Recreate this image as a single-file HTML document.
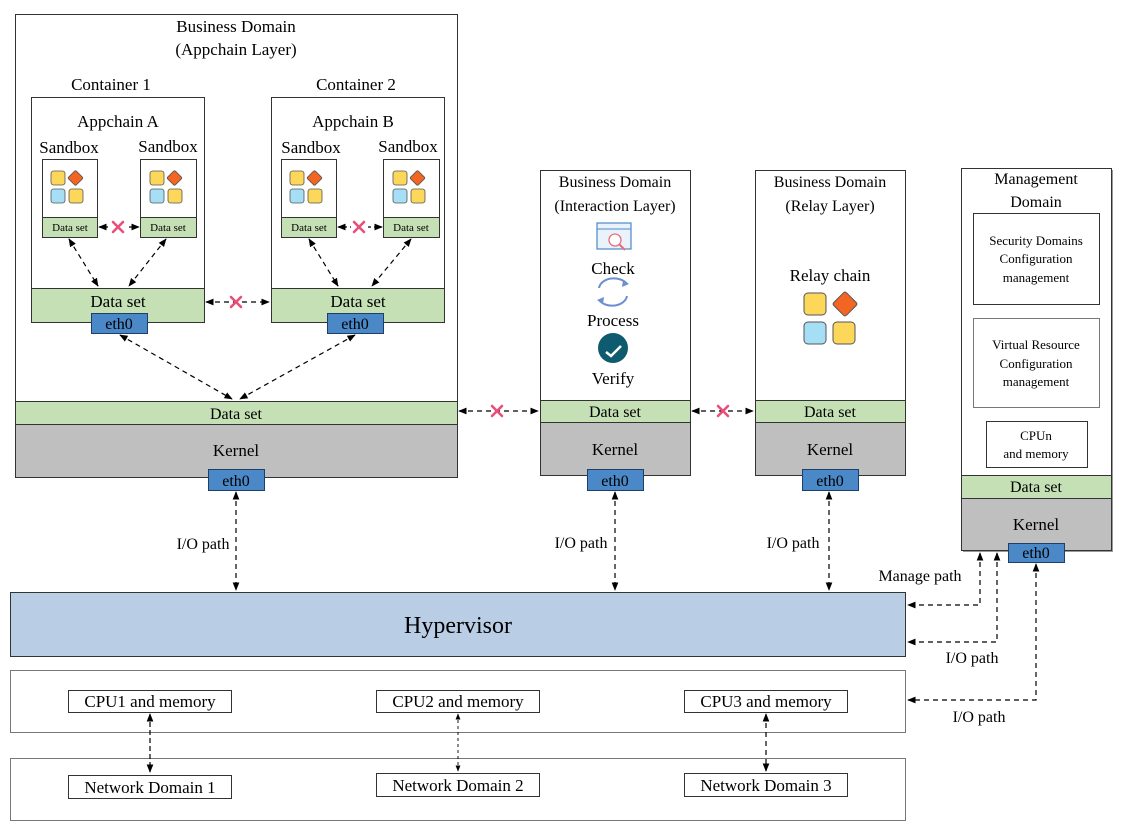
<!DOCTYPE html>
<html><head><meta charset="utf-8"><style>
html,body{margin:0;padding:0;background:#fff;}
svg{display:block;font-family:"Liberation Serif",serif;}
</style></head><body>
<svg width="1127" height="832" viewBox="0 0 1127 832" xmlns="http://www.w3.org/2000/svg">
<defs>
<marker id="a" viewBox="0 0 10 10" refX="9" refY="5" markerWidth="7" markerHeight="7" orient="auto-start-reverse"><path d="M0,1 L10,5 L0,9 z" fill="#000"/></marker>
<g id="ic">
<rect x="0" y="0" width="14" height="14" rx="2.5" fill="#fcd75a" stroke="#555" stroke-width="0.8"/>
<rect x="19" y="1.5" width="11" height="11" rx="1.5" fill="#f26522" stroke="#555" stroke-width="0.8" transform="rotate(45 24.5 7)"/>
<rect x="0" y="18" width="14" height="14" rx="2.5" fill="#a5def5" stroke="#555" stroke-width="0.8"/>
<rect x="18" y="18" width="14" height="14" rx="2.5" fill="#fcd75a" stroke="#555" stroke-width="0.8"/>
</g>
<g id="x"><path d="M-5,-5 L5,5 M5,-5 L-5,5" stroke="#e8507a" stroke-width="2.6" stroke-linecap="round"/></g>
</defs>
<g stroke="#333" stroke-width="1" fill="none">
<rect x="15.5" y="14.5" width="442" height="463" fill="#fff"/>
<rect x="15.5" y="401.5" width="442" height="23" fill="#c5e0b4"/>
<rect x="15.5" y="424.5" width="442" height="53" fill="#bfbfbf"/>
<rect x="31.5" y="97.5" width="173" height="225" fill="#fff"/>
<rect x="31.5" y="288.5" width="173" height="34" fill="#c5e0b4"/>
<rect x="271.5" y="97.5" width="173" height="225" fill="#fff"/>
<rect x="271.5" y="288.5" width="173" height="34" fill="#c5e0b4"/>
<rect x="42.5" y="159.5" width="55" height="78" fill="#fff"/><rect x="42.5" y="217.5" width="55" height="20" fill="#c5e0b4"/>
<rect x="140.5" y="159.5" width="56" height="78" fill="#fff"/><rect x="140.5" y="217.5" width="56" height="20" fill="#c5e0b4"/>
<rect x="281.5" y="159.5" width="55" height="78" fill="#fff"/><rect x="281.5" y="217.5" width="55" height="20" fill="#c5e0b4"/>
<rect x="383.5" y="159.5" width="56" height="78" fill="#fff"/><rect x="383.5" y="217.5" width="56" height="20" fill="#c5e0b4"/>
<rect x="540.5" y="170.5" width="150" height="305" fill="#fff"/>
<rect x="540.5" y="400.5" width="150" height="22" fill="#c5e0b4"/>
<rect x="540.5" y="422.5" width="150" height="53" fill="#bfbfbf"/>
<rect x="755.5" y="170.5" width="150" height="305" fill="#fff"/>
<rect x="755.5" y="400.5" width="150" height="22" fill="#c5e0b4"/>
<rect x="755.5" y="422.5" width="150" height="53" fill="#bfbfbf"/>
<rect x="963" y="170" width="150" height="382" fill="#999" stroke="none"/>
<rect x="961.5" y="168.5" width="150" height="382" fill="#fff"/>
<rect x="961.5" y="475.5" width="150" height="23" fill="#c5e0b4"/>
<rect x="961.5" y="498.5" width="150" height="52" fill="#bfbfbf"/>
<rect x="973.5" y="213.5" width="126" height="91" fill="#fff"/>
<rect x="973.5" y="318.5" width="126" height="89" fill="#fff" stroke="#777"/>
<rect x="986.5" y="421.5" width="101" height="46" fill="#fff"/>
<rect x="10.5" y="592.5" width="895" height="64" fill="#b9cde5"/>
<rect x="10.5" y="670.5" width="895" height="62" fill="#fff" stroke="#777"/>
<rect x="10.5" y="758.5" width="895" height="62" fill="#fff" stroke="#777"/>
<rect x="68.5" y="690.5" width="163" height="22" fill="#fff"/>
<rect x="376.5" y="690.5" width="163" height="22" fill="#fff"/>
<rect x="684.5" y="690.5" width="163" height="22" fill="#fff"/>
<rect x="68.5" y="775.5" width="163" height="23" fill="#fff"/>
<rect x="376.5" y="773.5" width="163" height="23" fill="#fff"/>
<rect x="684.5" y="773.5" width="163" height="23" fill="#fff"/>
<g fill="#4a88c8" stroke="#1f3f66">
<rect x="91.5" y="313.5" width="56" height="20"/>
<rect x="327.5" y="313.5" width="56" height="20"/>
<rect x="208.5" y="469.5" width="56" height="21"/>
<rect x="587.5" y="469.5" width="56" height="21"/>
<rect x="802.5" y="469.5" width="56" height="21"/>
<rect x="1008.5" y="543.5" width="56" height="19"/>
</g>
</g>
<use href="#ic" x="51" y="171"/><use href="#ic" x="150" y="171"/>
<use href="#ic" x="290" y="171"/><use href="#ic" x="393" y="171"/>
<g stroke="#000" stroke-width="1.2" fill="none" stroke-dasharray="5,4" marker-start="url(#a)" marker-end="url(#a)">
<path d="M69,239 L98,286"/><path d="M166,239 L129,286"/>
<path d="M309,239 L338,286"/><path d="M411,239 L372,286"/>
<path d="M99,227 L139,227" stroke-dasharray="3,3"/><path d="M338,227 L382,227" stroke-dasharray="3,3"/>
<path d="M206,302 L269,302"/>
<path d="M120,335 L232,399"/><path d="M355,335 L240,399"/>
<path d="M459,411 L538,411"/><path d="M692,411 L753,411"/>
<path d="M236,492 L236,590"/><path d="M615,492 L615,590"/><path d="M829,492 L829,590"/>
<path d="M980,553 L980,605 L908,605"/>
<path d="M997,553 L997,642 L908,642"/>
<path d="M1036,564 L1036,700 L908,700"/>
<path d="M150,714 L150,772" stroke-dasharray="5,3"/>
<path d="M458,714 L458,771" stroke-dasharray="3,3" stroke-width="0.9"/>
<path d="M766,714 L766,771"/>
</g>
<rect x="110" y="221" width="16" height="12" fill="#fff"/><rect x="351" y="221" width="16" height="12" fill="#fff"/>
<use href="#x" x="118" y="227"/><use href="#x" x="359" y="227"/>
<use href="#x" x="236" y="302"/><use href="#x" x="497" y="411"/><use href="#x" x="723" y="411"/>
<g>
<rect x="597" y="223" width="34" height="26" fill="#eaf2fb" stroke="#4a88c8" stroke-width="1.2"/>
<line x1="597" y1="229" x2="631" y2="229" stroke="#4a88c8"/>
<circle cx="615" cy="240" r="6" fill="#fff" stroke="#e8707a" stroke-width="1.3"/>
<line x1="619" y1="244" x2="625" y2="250" stroke="#e8707a" stroke-width="2"/>
<path d="M599,288 A15,11 0 0 1 627,284" stroke="#6b8fd0" stroke-width="2" fill="none"/>
<path d="M627,296 A15,11 0 0 1 599,300" stroke="#6b8fd0" stroke-width="2" fill="none"/>
<path d="M623,280 l6,4 l-7,3 z" fill="#6b8fd0"/>
<path d="M603,304 l-6,-4 l7,-3 z" fill="#6b8fd0"/>
<circle cx="613" cy="348" r="15" fill="#0e5b6f"/>
<path d="M606,352 l5,4 l10,-10" stroke="#fff" stroke-width="2.5" fill="none"/>
</g>
<g>
<rect x="804" y="293" width="22" height="22" rx="4" fill="#fcd75a" stroke="#555"/>
<rect x="836" y="295" width="18" height="18" rx="2" fill="#f26522" stroke="#555" transform="rotate(45 845 304)"/>
<rect x="804" y="322" width="22" height="22" rx="4" fill="#a5def5" stroke="#555"/>
<rect x="833" y="322" width="22" height="22" rx="4" fill="#fcd75a" stroke="#555"/>
</g>
<g fill="#000" text-anchor="middle" font-size="17">
<text x="236" y="32">Business Domain</text>
<text x="236" y="55">(Appchain Layer)</text>
<text x="111" y="90">Container 1</text>
<text x="356" y="90">Container 2</text>
<text x="118" y="127">Appchain A</text>
<text x="353" y="127">Appchain B</text>
<text x="69" y="153">Sandbox</text><text x="168" y="152">Sandbox</text>
<text x="311" y="153">Sandbox</text><text x="408" y="152">Sandbox</text>
<text x="118" y="307">Data set</text><text x="358" y="307">Data set</text>
<text x="236" y="419" font-size="16">Data set</text>
<text x="236" y="456">Kernel</text>
<text x="615" y="187" font-size="16">Business Domain</text>
<text x="615" y="211" font-size="16">(Interaction Layer)</text>
<text x="613" y="274">Check</text>
<text x="613" y="326">Process</text>
<text x="613" y="384">Verify</text>
<text x="615" y="417" font-size="16">Data set</text>
<text x="615" y="455">Kernel</text>
<text x="830" y="187" font-size="16">Business Domain</text>
<text x="830" y="211" font-size="16">(Relay Layer)</text>
<text x="830" y="281">Relay chain</text>
<text x="830" y="417" font-size="16">Data set</text>
<text x="830" y="455">Kernel</text>
<text x="1036" y="184" font-size="16">Management</text>
<text x="1036" y="207" font-size="16">Domain</text>
<text x="1036" y="492" font-size="16">Data set</text>
<text x="1036" y="530">Kernel</text>
<text x="458" y="633" font-size="24">Hypervisor</text>
<text x="150" y="707">CPU1 and memory</text>
<text x="458" y="707">CPU2 and memory</text>
<text x="766" y="707">CPU3 and memory</text>
<text x="150" y="793">Network Domain 1</text>
<text x="458" y="791">Network Domain 2</text>
<text x="766" y="791">Network Domain 3</text>
<text x="203" y="549" font-size="16">I/O path</text>
<text x="581" y="548" font-size="16">I/O path</text>
<text x="793" y="548" font-size="16">I/O path</text>
<text x="920" y="581" font-size="16">Manage path</text>
<text x="972" y="663" font-size="16">I/O path</text>
<text x="979" y="722" font-size="16">I/O path</text>
</g>
<g fill="#000" text-anchor="middle" font-size="12">
<text x="70" y="231" font-size="11">Data set</text><text x="168" y="231" font-size="11">Data set</text>
<text x="309" y="231" font-size="11">Data set</text><text x="411" y="231" font-size="11">Data set</text>
<text x="1036" y="245" font-size="13">Security Domains</text>
<text x="1036" y="263" font-size="13">Configuration</text>
<text x="1036" y="282" font-size="13">management</text>
<text x="1036" y="349" font-size="13">Virtual Resource</text>
<text x="1036" y="368" font-size="13">Configuration</text>
<text x="1036" y="386" font-size="13">management</text>
<text x="1036" y="440" font-size="13">CPUn</text>
<text x="1036" y="458" font-size="13">and memory</text>
</g>
<g fill="#000" text-anchor="middle" font-size="16">
<text x="119" y="329">eth0</text><text x="355" y="329">eth0</text>
<text x="236" y="486">eth0</text><text x="615" y="486">eth0</text><text x="830" y="486">eth0</text>
<text x="1036" y="558">eth0</text>
</g>
</svg>
</body></html>
